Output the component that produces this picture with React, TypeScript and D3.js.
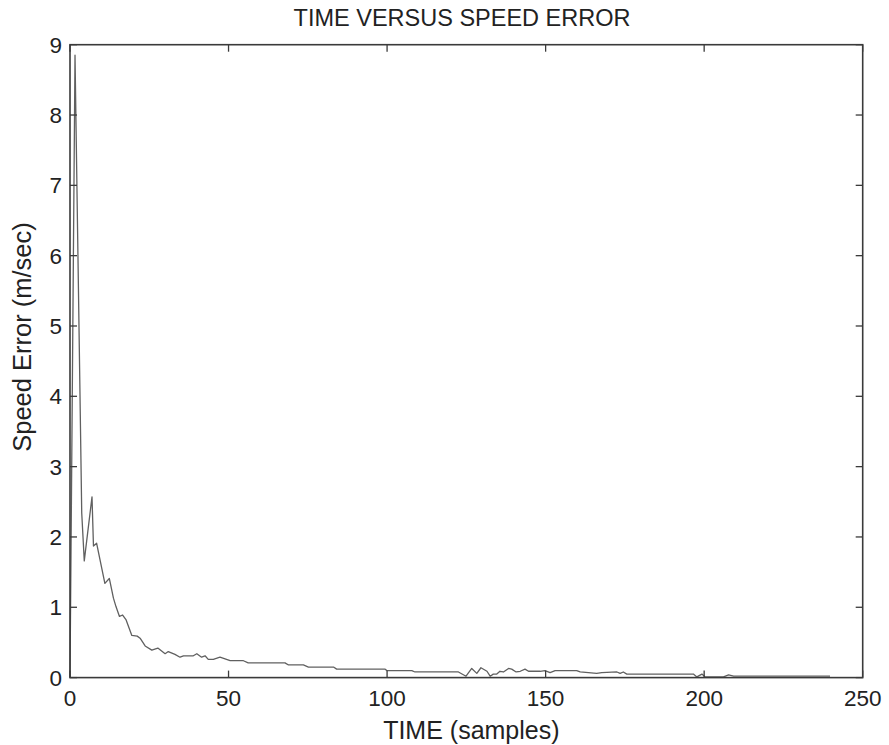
import React from "react";
import * as d3 from "d3";

const timeSamples = [
  0, 1.58, 3.7, 4.5, 6.94, 7.4, 8.4, 11, 12.4, 13.7, 14.5, 15.6, 16.6, 17.7, 19.5, 21.2, 22.1, 23.7, 25.8, 27.7,
  30, 31, 33.1, 34.7, 35.8, 38.9, 40, 41.5, 42.6, 43.6, 45.2, 47.3, 50.5, 54.7, 56.2, 67.8, 68.9, 73.6, 75.2, 83.1,
  84.1, 99.4, 99.9, 107.8, 108.8, 122.5, 124.9, 126.7, 128.3, 129.6, 131.5, 132.5, 133.5, 134.6, 135.6, 136.7, 138.3,
  139.3, 140.7, 142, 143.5, 144.6, 148.3, 149.8, 151.4, 153, 159.8, 160.9, 166.1, 167.7, 172.5, 173.5, 174.5, 175.6,
  196.6, 197.7, 199.3, 200.3, 206.1, 207.7, 209.3, 239.7,
];
const speedErrors = [
  0, 8.85, 2.34, 1.66, 2.57, 1.87, 1.91, 1.34, 1.41, 1.13, 1.01, 0.87, 0.89, 0.82, 0.6, 0.59, 0.56, 0.45, 0.39, 0.42,
  0.34, 0.37, 0.33, 0.29, 0.31, 0.31, 0.34, 0.29, 0.31, 0.26, 0.26, 0.29, 0.24, 0.24, 0.21, 0.21, 0.18, 0.18, 0.15, 0.15,
  0.12, 0.12, 0.1, 0.1, 0.08, 0.08, 0.02, 0.13, 0.06, 0.14, 0.09, 0.02, 0.05, 0.05, 0.09, 0.08, 0.13,
  0.12, 0.08, 0.09, 0.12, 0.09, 0.09, 0.1, 0.07, 0.1, 0.1, 0.08, 0.06, 0.07, 0.08, 0.06, 0.08, 0.05,
  0.05, 0.01, 0.05, 0.01, 0.01, 0.04, 0.02, 0.02,
];
const xTicks = [0, 50, 100, 150, 200, 250];
const yTicks = [0, 1, 2, 3, 4, 5, 6, 7, 8, 9];
const titleText = "TIME VERSUS SPEED ERROR";
const xLabelText = "TIME (samples)";
const yLabelText = "Speed Error (m/sec)";

export default function App() {
  const W = 889, H = 745;
  const left = 70, right = 862.7, top = 44.7, bottom = 677.6;
  const x = d3.scaleLinear().domain([0, 250]).range([left, right]);
  const y = d3.scaleLinear().domain([0, 9]).range([bottom, top]);
  const pts: [number, number][] = timeSamples.map((t, i) => [t, speedErrors[i]]);
  const line = d3.line<[number, number]>().x((d) => x(d[0])).y((d) => y(d[1]));
  const tl = 7;
  const font = "'Liberation Sans', Arial, Helvetica, sans-serif";
  const frameColor = "#3a3a3a";
  return (
    <svg width={W} height={H} style={{ position: "absolute", left: 0, top: 0, background: "#fff" }} fontFamily={font}>
      <rect x={0} y={0} width={W} height={H} fill="#fff" />
      <path d={line(pts) || ""} fill="none" stroke="#606060" strokeWidth={1.3} strokeLinejoin="round" />
      {xTicks.map((t) => (
        <g key={"x" + t}>
          <line x1={x(t)} x2={x(t)} y1={bottom} y2={bottom - tl} stroke={frameColor} strokeWidth={1.3} />
          <line x1={x(t)} x2={x(t)} y1={top} y2={top + tl} stroke={frameColor} strokeWidth={1.3} />
          <text x={x(t)} y={bottom + 28} textAnchor="middle" fontSize={22.5} fill="#222">{t}</text>
        </g>
      ))}
      {yTicks.map((t) => (
        <g key={"y" + t}>
          <line x1={left} x2={left + tl} y1={y(t)} y2={y(t)} stroke={frameColor} strokeWidth={1.3} />
          <line x1={right} x2={right - tl} y1={y(t)} y2={y(t)} stroke={frameColor} strokeWidth={1.3} />
          <text x={left - 8} y={y(t) + 8} textAnchor="end" fontSize={22.5} fill="#222">{t}</text>
        </g>
      ))}
      <rect x={left} y={top} width={right - left} height={bottom - top} fill="none" stroke={frameColor} strokeWidth={1.6} />
      <text x={462} y={26} textAnchor="middle" fontSize={23.5} fill="#222">{titleText}</text>
      <text x={(left + right) / 2 + 5} y={739} textAnchor="middle" fontSize={25} fill="#222">{xLabelText}</text>
      <text transform={`translate(31, 337) rotate(-90)`} textAnchor="middle" fontSize={25.5} fill="#222">{yLabelText}</text>
    </svg>
  );
}
